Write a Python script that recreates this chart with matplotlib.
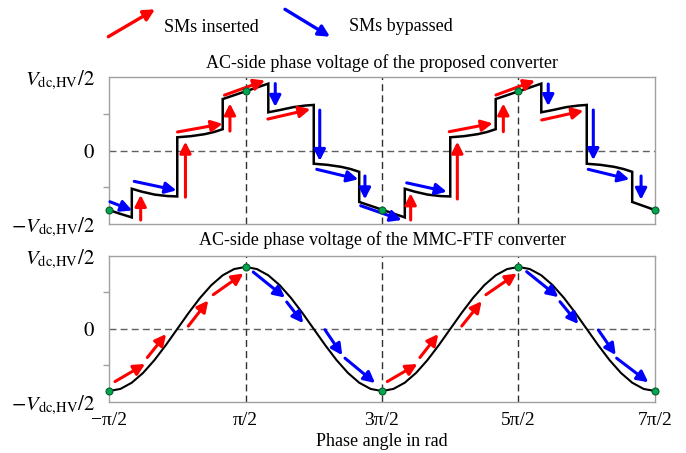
import numpy as np
import matplotlib
matplotlib.use("Agg")
import matplotlib.pyplot as plt

plt.rcParams["font.family"] = ["Liberation Serif", "DejaVu Serif"]
plt.rcParams["mathtext.fontset"] = "stix"

# ---- data (phase angle in units of pi, voltage normalised to V_dc,HV/2) ----
# staircase output of the proposed converter (vertical edges = SM switching)
top_theta = [-0.5, -0.42, -0.333,
             -0.333, -0.26, -0.165, -0.07, 0.0,
             0.0, 0.1, 0.2, 0.27, 0.333,
             0.333, 0.5, 0.667,
             0.667, 0.75, 0.85, 0.94, 1.0,
             1.0, 1.1, 1.2, 1.27, 1.333,
             1.333, 1.5, 1.667,
             1.667, 1.74, 1.835, 1.93, 2.0,
             2.0, 2.1, 2.2, 2.27, 2.333,
             2.333, 2.5, 2.667,
             2.667, 2.75, 2.85, 2.94, 3.0,
             3.0, 3.1, 3.2, 3.27, 3.333,
             3.333, 3.5]
top_volt = [-0.81, -0.86, -0.91,
            -0.52, -0.56, -0.60, -0.62, -0.625,
            0.18, 0.195, 0.222, 0.252, 0.29,
            0.70, 0.805, 0.91,
            0.52, 0.55, 0.59, 0.612, 0.62,
            -0.18, -0.195, -0.222, -0.252, -0.29,
            -0.70, -0.805, -0.91,
            -0.52, -0.56, -0.60, -0.62, -0.625,
            0.18, 0.195, 0.222, 0.252, 0.29,
            0.70, 0.805, 0.91,
            0.52, 0.55, 0.59, 0.612, 0.62,
            -0.18, -0.195, -0.222, -0.252, -0.29,
            -0.70, -0.81]

# sinusoidal output of the MMC-FTF converter, sampled every pi/12
bot_theta = [-0.5 + k / 12 for k in range(49)]
bot_volt = [-0.85, -0.821, -0.736, -0.601, -0.425, -0.220, 0.0, 0.220, 0.425,
            0.601, 0.736, 0.821, 0.85, 0.821, 0.736, 0.601, 0.425, 0.220, 0.0,
            -0.220, -0.425, -0.601, -0.736, -0.821, -0.85,
            -0.821, -0.736, -0.601, -0.425, -0.220, 0.0, 0.220, 0.425,
            0.601, 0.736, 0.821, 0.85, 0.821, 0.736, 0.601, 0.425, 0.220, 0.0,
            -0.220, -0.425, -0.601, -0.736, -0.821, -0.85]

top_dots_theta = [-0.5, 0.5, 1.5, 2.5, 3.5]
top_dots_volt = [-0.81, 0.805, -0.805, 0.805, -0.81]
bot_dots_theta = [-0.5, 0.5, 1.5, 2.5, 3.5]
bot_dots_volt = [-0.85, 0.85, -0.85, 0.85, -0.85]

# arrows: (theta_tail, v_tail, theta_head, v_head)
top_inserted = [(-0.268, -0.946, -0.268, -0.605),
                (0.060, -0.635, 0.060, 0.12),
                (0.386, 0.265, 0.386, 0.64),
                (0.002, 0.252, 0.332, 0.363),
                (0.346, 0.753, 0.643, 0.952),
                (0.664, 0.428, 0.975, 0.562),
                (1.710, -0.946, 1.710, -0.583),
                (2.052, -0.66, 2.052, 0.12),
                (2.389, 0.256, 2.389, 0.64),
                (1.993, 0.256, 2.311, 0.370),
                (2.335, 0.755, 2.621, 0.95),
                (2.670, 0.415, 2.975, 0.541)]
top_bypassed = [(-0.493, -0.697, -0.330, -0.815),
                (-0.315, -0.420, -0.006, -0.542),
                (0.718, 0.910, 0.718, 0.594),
                (1.044, 0.549, 1.044, -0.142),
                (1.022, -0.256, 1.326, -0.392),
                (1.375, -0.347, 1.375, -0.664),
                (1.344, -0.751, 1.644, -0.946),
                (1.681, -0.44, 1.974, -0.56),
                (2.718, 0.905, 2.718, 0.605),
                (3.048, 0.551, 3.048, -0.13),
                (3.011, -0.256, 3.312, -0.392),
                (3.398, -0.347, 3.398, -0.67)]

bot_inserted = [(-0.456, -0.72, -0.236, -0.48),
                (-0.219, -0.39, -0.082, -0.07),
                (0.081, 0.04, 0.227, 0.39),
                (0.264, 0.47, 0.484, 0.76),
                (1.539, -0.72, 1.759, -0.48),
                (1.778, -0.39, 1.912, -0.07),
                (2.084, 0.04, 2.230, 0.38),
                (2.262, 0.47, 2.487, 0.76)]
bot_bypassed = [(0.557, 0.78, 0.789, 0.43),
                (0.802, 0.37, 0.923, 0.08),
                (1.082, -0.01, 1.209, -0.36),
                (1.229, -0.40, 1.449, -0.74),
                (2.560, 0.785, 2.792, 0.436),
                (2.804, 0.374, 2.938, 0.068),
                (3.085, -0.014, 3.212, -0.356),
                (3.219, -0.40, 3.451, -0.73)]

x_ticks = [-0.5, 0.5, 1.5, 2.5, 3.5]
x_tick_labels = ["\u2212\u03c0/2", "\u03c0/2", "3\u03c0/2", "5\u03c0/2", "7\u03c0/2"]
y_ticks = [-1, 0, 1]
y_tick_labels = [r"$-V_{\mathrm{dc{,}HV}}/2$", r"$0$", r"$V_{\mathrm{dc{,}HV}}/2$"]
guide_theta = [0.5, 1.5, 2.5]

RED = "#ff0000"
BLUE = "#0000ff"
ARROW = "-|>,head_length=0.55,head_width=0.28"

fig = plt.figure(figsize=(6.86, 4.53), dpi=100)
ax_top = fig.add_axes([0.1589, 0.5055, 0.7959, 0.3245])
ax_bot = fig.add_axes([0.1589, 0.1126, 0.7959, 0.3223])


def arrow(ax, seg, color):
    x0, y0, x1, y1 = seg
    ax.annotate("", xy=(x1, y1), xytext=(x0, y0),
                arrowprops=dict(arrowstyle=ARROW, color=color, lw=2.2,
                                shrinkA=0, shrinkB=0, mutation_scale=12),
                annotation_clip=False, zorder=4)


for ax in (ax_top, ax_bot):
    ax.set_xlim(-0.5, 3.5)
    ax.set_ylim(-1, 1)
    ax.axhline(0, color="#606060", lw=1.0, ls=(0, (5, 3)), zorder=1)
    for g in guide_theta:
        ax.axvline(g, color="#303030", lw=1.0, ls=(0, (5, 3)), zorder=1)
    for s in ax.spines.values():
        s.set_color("#a0a0a0")
        s.set_linewidth(1.0)
    ax.set_xticks(x_ticks)
    ax.set_yticks(y_ticks)
    ax.set_yticklabels(y_tick_labels, fontsize=15)
    ax.set_yticks([-0.5, 0.5], minor=True)
    ax.tick_params(axis="y", which="major", length=0, pad=10)
    ax.tick_params(axis="y", which="minor", length=4, color="#a0a0a0", width=1)
    ax.tick_params(axis="x", which="major", length=0, pad=7)

ax_top.set_xticklabels([])
ax_bot.set_xticklabels(x_tick_labels, fontsize=14)

# proposed converter: staircase voltage
ax_top.plot(top_theta, top_volt, color="black", lw=1.8,
            solid_joinstyle="miter", zorder=3)
for seg in top_inserted:
    arrow(ax_top, seg, RED)
for seg in top_bypassed:
    arrow(ax_top, seg, BLUE)
ax_top.plot(top_dots_theta, top_dots_volt, "o", ms=5, mfc="#00a651",
            mec="#0b5d2a", mew=0.8, clip_on=False, zorder=6)

# MMC-FTF converter: sinusoidal voltage
ax_bot.plot(bot_theta, bot_volt, color="black", lw=1.5, zorder=3)
for seg in bot_inserted:
    arrow(ax_bot, seg, RED)
for seg in bot_bypassed:
    arrow(ax_bot, seg, BLUE)
ax_bot.plot(bot_dots_theta, bot_dots_volt, "o", ms=5, mfc="#00a651",
            mec="#0b5d2a", mew=0.8, clip_on=False, zorder=6)

# panel titles and axis label
fig.text(0.557, 1 - 63 / 453, "AC-side phase voltage of the proposed converter",
         ha="center", va="center", fontsize=13)
fig.text(0.557, 1 - 240 / 453, "AC-side phase voltage of the MMC-FTF converter",
         ha="center", va="center", fontsize=13)
fig.text(0.557, 1 - 442 / 453, "Phase angle in rad",
         ha="center", va="center", fontsize=13)

# key for the arrow colours (positions given in figure pixels)
W, H = 686.0, 453.0
key = [((108.3, 36.7), (155.0, 9.3), RED, "SMs inserted", 164.0, 32.3),
       ((285.0, 9.3), (330.0, 36.7), BLUE, "SMs bypassed", 349.3, 30.7)]
for (tx, ty), (hx, hy), col, label, lx, ly in key:
    fig.add_artist(matplotlib.patches.FancyArrowPatch(
        (tx / W, 1 - ty / H), (hx / W, 1 - hy / H),
        transform=fig.transFigure, arrowstyle=ARROW, color=col, lw=2.4,
        mutation_scale=12, shrinkA=0, shrinkB=0))
    fig.text(lx / W, 1 - ly / H, label, ha="left", va="baseline", fontsize=13)

fig.savefig("out.png", dpi=100)
